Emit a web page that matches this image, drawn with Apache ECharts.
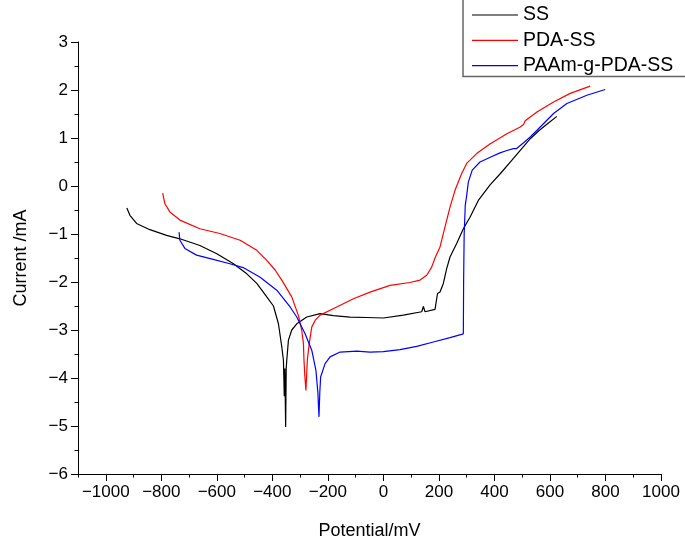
<!DOCTYPE html>
<html>
<head>
<meta charset="utf-8">
<style>html,body{margin:0;padding:0;background:#fff}#c{width:685px;height:549px}</style>
<script src="https://cdn.jsdelivr.net/npm/echarts@6/dist/echarts.min.js"></script>
</head>
<body>
<div id="c"></div>
<script>
var seriesNames = ['SS', 'PDA-SS', 'PAAm-g-PDA-SS'];
var xTickLabels = [-1000, -800, -600, -400, -200, 0, 200, 400, 600, 800, 1000];
var ssData = [[-924,-0.46],[-913,-0.61],[-889,-0.78],[-841,-0.91],[-781,-1.03],[-733,-1.10],[-661,-1.24],[-600,-1.41],[-540,-1.62],[-492,-1.83],[-456,-2.03],[-420,-2.31],[-396,-2.50],[-378,-2.87],[-366,-3.35],[-360,-3.63],[-357,-4.38],[-355,-3.8],[-352,-5.02],[-350,-3.8],[-348,-3.63],[-342,-3.21],[-330,-3.0],[-312,-2.87],[-276,-2.73],[-228,-2.66],[-180,-2.70],[-120,-2.73],[-60,-2.74],[0,-2.75],[72,-2.69],[138,-2.62],[144,-2.51],[150,-2.62],[186,-2.57],[195,-2.24],[204,-2.21],[216,-2.03],[228,-1.72],[240,-1.48],[264,-1.2],[288,-0.89],[312,-0.65],[342,-0.30],[385,0.03],[420,0.25],[460,0.52],[500,0.79],[530,0.99],[560,1.15],[590,1.29],[625,1.45]];
var pdaData = [[-795,-0.15],[-787,-0.37],[-769,-0.54],[-733,-0.71],[-661,-0.89],[-589,-0.99],[-516,-1.13],[-456,-1.34],[-420,-1.55],[-390,-1.75],[-366,-1.96],[-330,-2.31],[-306,-2.70],[-294,-3.01],[-288,-3.28],[-286,-3.63],[-283,-3.95],[-279,-4.26],[-276,-3.9],[-274,-3.63],[-267,-3.28],[-258,-2.94],[-246,-2.80],[-228,-2.69],[-168,-2.52],[-108,-2.35],[-48,-2.21],[24,-2.07],[96,-2.01],[132,-1.96],[156,-1.86],[174,-1.69],[186,-1.50],[204,-1.27],[222,-0.85],[240,-0.44],[258,-0.09],[282,0.26],[300,0.47],[337,0.68],[385,0.88],[445,1.09],[493,1.23],[505,1.28],[511,1.36],[553,1.54],[613,1.75],[673,1.93],[745,2.08]];
var paamData = [[-736,-0.96],[-733,-1.13],[-715,-1.30],[-673,-1.44],[-613,-1.53],[-553,-1.62],[-505,-1.70],[-444,-1.90],[-384,-2.17],[-336,-2.52],[-312,-2.73],[-282,-3.08],[-258,-3.42],[-243,-3.84],[-236,-4.3],[-232,-4.81],[-229,-4.3],[-226,-3.98],[-210,-3.70],[-192,-3.56],[-156,-3.46],[-96,-3.44],[-48,-3.46],[0,-3.45],[60,-3.41],[120,-3.34],[180,-3.25],[240,-3.16],[288,-3.08],[289,-2.0],[291,-1.0],[295,-0.4],[300,-0.2],[306,0.08],[320,0.33],[348,0.50],[385,0.60],[420,0.69],[445,0.74],[469,0.78],[480,0.78],[505,0.90],[529,1.02],[565,1.23],[613,1.51],[661,1.72],[733,1.89],[799,2.01]];

var FONT = 'Liberation Sans, Arial, sans-serif';
function minus(v){ return String(v).replace('-', '\u2212'); }

var chart = echarts.init(document.getElementById('c'), null, {renderer:'canvas'});
chart.setOption({
  animation: false,
  backgroundColor: '#fff',
  grid: {left: 78, right: 24, top: 42, bottom: 75},
  legend: {
    orient: 'vertical', left: 463, top: -10,
    padding: [15, 40, 1, 9],
    itemWidth: 46, itemHeight: 1.2, itemGap: 5.3,
    icon: 'rect',
    borderColor: '#666', borderWidth: 1.5,
    textStyle: {fontFamily: FONT, fontSize: 19.5, color: '#000', lineHeight: 20},
    data: seriesNames
  },
  xAxis: [{
    type: 'value', min: -1100, max: 1000, interval: 100,
    name: 'Potential/mV', nameLocation: 'middle', nameGap: 48,
    nameTextStyle: {fontFamily: FONT, fontSize: 18, color: '#000'},
    axisLine: {show: true, onZero: false, lineStyle: {color: '#000', width: 1}},
    axisTick: {show: true, length: 3.5, lineStyle: {color: '#000'}},
    axisLabel: {customValues: xTickLabels, formatter: minus, margin: 10, fontFamily: FONT, fontSize: 17, color: '#000'},
    splitLine: {show: false}
  }, {
    type: 'value', min: -1100, max: 1000, interval: 100, position: 'bottom',
    axisLine: {show: false, onZero: false},
    axisTick: {show: true, length: 7, customValues: xTickLabels, lineStyle: {color: '#000'}},
    axisLabel: {show: false},
    splitLine: {show: false}
  }],
  yAxis: {
    type: 'value', min: -6, max: 3, interval: 1,
    name: 'Current /mA', nameLocation: 'middle', nameGap: 48, nameRotate: 90,
    nameTextStyle: {fontFamily: FONT, fontSize: 18, color: '#000'},
    axisLine: {show: true, onZero: false, lineStyle: {color: '#000', width: 1}},
    axisTick: {show: true, length: 7, lineStyle: {color: '#000'}},
    minorTick: {show: true, splitNumber: 2, length: 3.5, lineStyle: {color: '#000'}},
    axisLabel: {formatter: minus, margin: 10, fontFamily: FONT, fontSize: 17, color: '#000'},
    splitLine: {show: false}
  },
  series: [
    {name: seriesNames[0], type: 'line', data: ssData, showSymbol: false, symbol: 'none', color: '#000', lineStyle: {width: 1.2, color: '#000'}},
    {name: seriesNames[1], type: 'line', data: pdaData, showSymbol: false, symbol: 'none', color: '#ff0000', lineStyle: {width: 1.2, color: '#ff0000'}},
    {name: seriesNames[2], type: 'line', data: paamData, showSymbol: false, symbol: 'none', color: '#0000ff', lineStyle: {width: 1.2, color: '#0000ff'}}
  ]
});
</script>
</body>
</html>
